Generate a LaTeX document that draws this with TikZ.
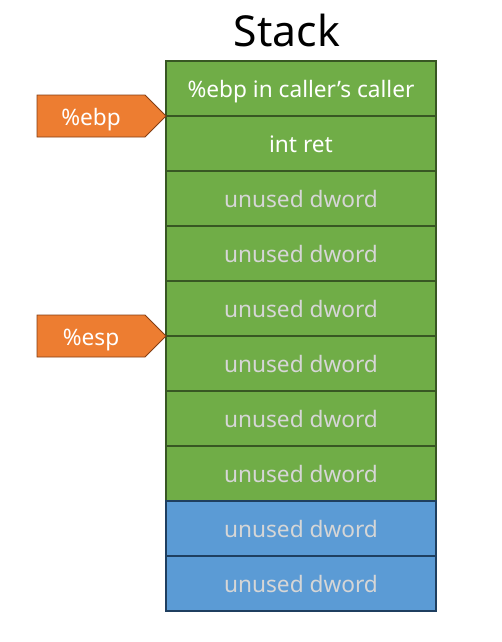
\documentclass[tikz,border=0pt]{standalone}
\usepackage{fontspec}
\setmainfont{Noto Sans}
\usetikzlibrary{positioning}
\usetikzlibrary{shapes.symbols}
\definecolor{stackgreen}{RGB}{112,173,71}
\definecolor{greenedge}{RGB}{56,87,35}
\definecolor{stackblue}{RGB}{91,155,213}
\definecolor{blueedge}{RGB}{31,63,96}
\definecolor{ptrorange}{RGB}{237,125,49}
\definecolor{orangeedge}{RGB}{132,62,20}
\definecolor{unusedgray}{RGB}{214,214,214}

\begin{document}
\begin{tikzpicture}[
    x=0.75pt, y=-0.75pt,
    node distance=0pt,
    % node styles
    cell/.style = {
      rectangle,
      line width=0.9pt,
      outer sep=0pt,
      minimum width=202.5pt,
      minimum height=41.25pt,
      text height=14pt, text depth=0pt,
      font=\fontsize{17}{20}\selectfont
    },
    greencell/.style = {cell, fill=stackgreen, draw=greenedge},
    bluecell/.style = {cell, fill=stackblue, draw=blueedge},
    ptr/.style = {
      signal, signal to=east, signal from=nowhere,
      signal pointer angle=90,
      fill=ptrorange, draw=orangeedge, line width=0.7pt,
      minimum width=96.75pt, minimum height=31.5pt,
      inner sep=0pt, outer sep=0pt,
      text height=14pt, text depth=0pt,
      text=white,
      font=\fontsize{17}{20}\selectfont
    }
  ]
  \useasboundingbox (0,0) rectangle (501,642);

  % --- Title
  \node[font=\fontsize{32}{36}\selectfont] (title) at (287,31) {Stack};

  % --- Stack cells
  \node[greencell, text=white, anchor=north west] (c1) at (166,61) {\%ebp in caller’s caller};
  \node[greencell, text=white, below=of c1] (c2) {int ret};
  \node[greencell, text=unusedgray, below=of c2] (c3) {unused dword};
  \node[greencell, text=unusedgray, below=of c3] (c4) {unused dword};
  \node[greencell, text=unusedgray, below=of c4] (c5) {unused dword};
  \node[greencell, text=unusedgray, below=of c5] (c6) {unused dword};
  \node[greencell, text=unusedgray, below=of c6] (c7) {unused dword};
  \node[greencell, text=unusedgray, below=of c7] (c8) {unused dword};
  \node[bluecell, text=unusedgray, below=of c8] (c9) {unused dword};
  \node[bluecell, text=unusedgray, below=of c9] (c10) {unused dword};

  % --- Pointers
  \node[ptr, anchor=east] (ebp) at (c1.south west) {\%ebp\hspace{8pt}};
  \node[ptr, anchor=east] (esp) at (c5.south west) {\%esp\hspace{8pt}};

\end{tikzpicture}
\end{document}
